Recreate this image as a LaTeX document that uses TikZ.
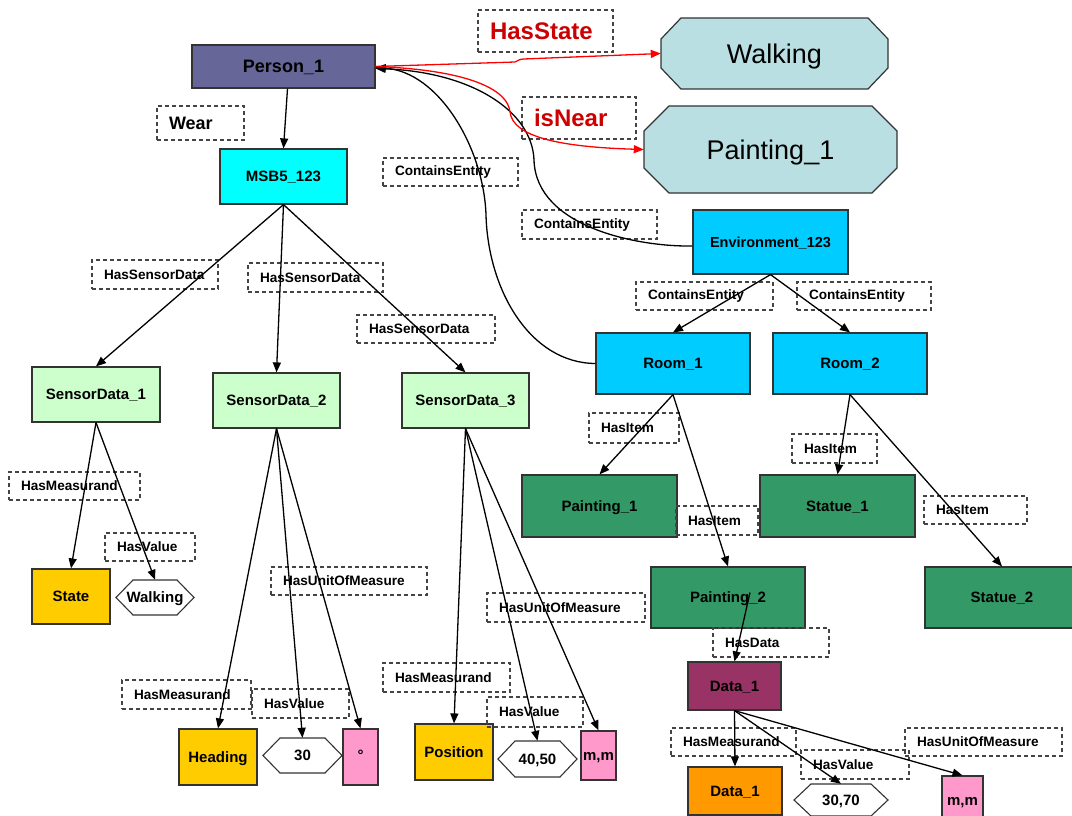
\documentclass[tikz,border=0pt]{standalone}
\usepackage{fontspec}
\setmainfont{Liberation Sans}
\usetikzlibrary{arrows.meta,calc}

\definecolor{cPerson}{HTML}{666699}
\definecolor{cMsb}{HTML}{00FFFF}
\definecolor{cEnv}{HTML}{00CCFF}
\definecolor{cSensor}{HTML}{CCFFCC}
\definecolor{cGold}{HTML}{FFCC00}
\definecolor{cPink}{HTML}{FF99CC}
\definecolor{cItem}{HTML}{339966}
\definecolor{cData}{HTML}{993366}
\definecolor{cOrange}{HTML}{FF9900}
\definecolor{cState}{HTML}{B9DFE2}
\definecolor{cRel}{HTML}{CC0000}
\definecolor{cRedLine}{HTML}{FF0000}
\definecolor{cBorder}{HTML}{333333}
\definecolor{cDash}{HTML}{444444}

% filled rectangle given by its corners: name, style, x1, y1, x2, y2, text
\newcommand\boxnode[7]{%
  \node[box,#2,minimum width={#5-#3},minimum height={#6-#4}] (#1)
    at ({(#3+#5)/2},{(#4+#6)/2}) {#7};}
% dashed relation label, text set flush left
\newcommand\lblnode[7][]{%
  \pgfmathsetmacro\lblw{#5-#3-24}%
  \node[lbl,#1,minimum width={#5-#3},minimum height={#6-#4},text width=\lblw pt] (#2)
    at ({(#3+#5)/2},{(#4+#6)/2}) {\mbox{#7}};}
% octagon: name, x1, y1, x2, y2, corner cut x, corner cut y, text
\newcommand\octnode[8]{%
  \path[octo] ({#2+#6},#3) -- ({#4-#6},#3) -- (#4,{#3+#7}) -- (#4,{#5-#7})
    -- ({#4-#6},#5) -- ({#2+#6},#5) -- (#2,{#5-#7}) -- (#2,{#3+#7}) -- cycle;
  \node[octtext,minimum width={#4-#2},minimum height={#5-#3}] (#1)
    at ({(#2+#4)/2},{(#3+#5)/2}) {#8};}
% value hexagon with pointed ends: name, x1, y1, x2, y2, text
\newcommand\hexnode[6]{%
  \path[hexa] (#2,{(#3+#5)/2}) -- ({#2+17},#3) -- ({#4-17},#3) -- (#4,{(#3+#5)/2})
    -- ({#4-17},#5) -- ({#2+17},#5) -- cycle;
  \node[hextext,minimum width={#4-#2},minimum height={#5-#3}] (#1)
    at ({(#2+#4)/2},{(#3+#5)/2}) {#6};}

\begin{document}
\begin{tikzpicture}[x=1pt,y=-1pt,
  capcentred/.style={text height=#1,text depth=0pt},
  box/.style={draw=cBorder,line width=1.2pt,inner sep=0pt,capcentred=10.8pt,
    font=\bfseries\fontsize{15}{18}\selectfont},
  lbl/.style={draw=cDash,dash pattern=on 4pt off 3pt,line width=1.1pt,
    inner xsep=12pt,inner ysep=0pt,align=left,
    font=\bfseries\fontsize{13.6}{16}\selectfont},
  rel/.style={text=cRel,font=\bfseries\fontsize{24}{28}\selectfont},
  octo/.style={fill=cState,draw=cBorder,line width=1.2pt},
  octtext/.style={inner sep=0pt,capcentred=19.4pt,font=\fontsize{27}{32}\selectfont},
  hexa/.style={fill=white,draw=cBorder,line width=1.1pt},
  hextext/.style={inner sep=0pt,capcentred=10.8pt,font=\bfseries\fontsize{15}{18}\selectfont},
  arr/.style={line width=1.3pt,-{Triangle[length=10pt,width=8pt]}},
  redarr/.style={cRedLine,line width=1.3pt,-{Triangle[length=10pt,width=8pt]}}]

\useasboundingbox (0,0) rectangle (1072,816);
\clip (0,0) rectangle (1072,816);

% ---- person, sensor box and its data ----
\boxnode{person}{fill=cPerson,capcentred=13pt,font=\bfseries\fontsize{18}{21}\selectfont}{192}{45}{375}{88}{Person\_1}
\boxnode{msb}{fill=cMsb}{220}{149}{347}{204}{MSB5\_123}
\boxnode{sd1}{fill=cSensor}{32}{367}{160}{422}{SensorData\_1}
\boxnode{sd2}{fill=cSensor}{213}{373}{340}{428}{SensorData\_2}
\boxnode{sd3}{fill=cSensor}{402}{373}{529}{428}{SensorData\_3}
\boxnode{state}{fill=cGold}{32}{569}{110}{624}{State}
\hexnode{hwalk}{116}{580}{194}{615}{Walking}
\boxnode{heading}{fill=cGold}{179}{729}{257}{785}{Heading}
\hexnode{hthirty}{263}{738}{342}{773}{30}
\boxnode{deg}{fill=cPink,capcentred=6pt}{343}{729}{378}{785}{°}
\boxnode{position}{fill=cGold}{415}{724}{493}{780}{Position}
\hexnode{hpos}{498}{741}{577}{777}{40,50}
\boxnode{mmone}{fill=cPink}{581}{731}{616}{780}{m,m}

% ---- states of the person ----
\octnode{walk}{661}{18}{888}{89}{20}{21}{Walking}
\octnode{pnt}{644}{106}{897}{193}{25}{25}{Painting\_1}

% ---- environment ----
\boxnode{env}{fill=cEnv,capcentred=10.4pt,font=\bfseries\fontsize{14.5}{18}\selectfont}{693}{210}{848}{274}{Environment\_123}
\boxnode{roomone}{fill=cEnv}{596}{333}{750}{394}{Room\_1}
\boxnode{roomtwo}{fill=cEnv}{773}{333}{927}{394}{Room\_2}
\boxnode{pone}{fill=cItem}{522}{475}{677}{537}{Painting\_1}
\boxnode{sone}{fill=cItem}{760}{475}{915}{537}{Statue\_1}
\boxnode{ptwo}{fill=cItem}{651}{567}{805}{628}{Painting\_2}
\boxnode{stwo}{fill=cItem}{925}{567}{1079}{628}{Statue\_2}
\boxnode{data}{fill=cData}{688}{662}{781}{710}{Data\_1}
\boxnode{dval}{fill=cOrange}{688}{767}{782}{815}{Data\_1}
\hexnode{hdat}{794}{784}{888}{816}{30,70}
\boxnode{mmtwo}{fill=cPink}{942}{776}{983}{825}{m,m}

% ---- relation labels ----
\lblnode[font=\bfseries\fontsize{18}{21}\selectfont]{lwear}{157}{106}{244}{140}{Wear}
\lblnode[rel]{lstate}{478}{10}{613}{52}{HasState}
\lblnode[rel]{lnear}{522}{97}{636}{139}{isNear}
\lblnode{lceA}{383}{158}{518}{186}{ContainsEntity}
\lblnode{lceB}{522}{210}{657}{239}{ContainsEntity}
\lblnode{lceC}{636}{282}{773}{310}{ContainsEntity}
\lblnode{lceD}{797}{282}{931}{310}{ContainsEntity}
\lblnode{lsdA}{92}{260}{218}{289}{HasSensorData}
\lblnode{lsdB}{248}{263}{383}{292}{HasSensorData}
\lblnode{lsdC}{357}{315}{495}{343}{HasSensorData}
\lblnode{lmA}{9}{472}{140}{500}{HasMeasurand}
\lblnode{lvA}{105}{533}{195}{561}{HasValue}
\lblnode{luB}{271}{567}{427}{595}{HasUnitOfMeasure}
\lblnode{lmB}{122}{680}{251}{709}{HasMeasurand}
\lblnode{lvB}{252}{689}{349}{718}{HasValue}
\lblnode{luC}{487}{593}{645}{622}{HasUnitOfMeasure}
\lblnode{lmC}{383}{663}{510}{692}{HasMeasurand}
\lblnode{lvC}{487}{697}{583}{727}{HasValue}
\lblnode{liA}{589}{413}{679}{443}{HasItem}
\lblnode{liB}{676}{506}{758}{535}{HasItem}
\lblnode{liC}{792}{434}{877}{463}{HasItem}
\lblnode{liD}{924}{496}{1027}{524}{HasItem}
\lblnode{ldat}{713}{628}{829}{657}{HasData}
\lblnode{lmD}{671}{728}{796}{756}{HasMeasurand}
\lblnode{lvD}{801}{750}{909}{779}{HasValue}
\lblnode{luD}{905}{728}{1062}{756}{HasUnitOfMeasure}

% ---- connectors ----
\draw[arr] ($(person.south)+(4,0)$) -- (msb.north);
\draw[arr] (msb.south) -- (sd1.north);
\draw[arr] (msb.south) -- (sd2.north);
\draw[arr] (msb.south) -- (sd3.north);
\draw[arr] (sd1.south) -- (state.north);
\draw[arr] (sd1.south) -- (hwalk.north);
\draw[arr] (sd2.south) -- (heading.north);
\draw[arr] (sd2.south) -- (hthirty.north);
\draw[arr] (sd2.south) -- (deg.north);
\draw[arr] (sd3.south) -- (position.north);
\draw[arr] (sd3.south) -- (hpos.north);
\draw[arr] (sd3.south) -- (mmone.north);

\draw[arr] (env.south) -- (roomone.north);
\draw[arr] (env.south) -- (roomtwo.north);
\draw[arr] (roomone.south) -- (pone.north);
\draw[arr] (roomone.south) -- (ptwo.north);
\draw[arr] (roomtwo.south) -- (sone.north);
\draw[arr] (roomtwo.south) -- (stwo.north);
\draw[arr] ($(ptwo.center)+(22,-5)$) -- (data.north);
\draw[arr] (data.south) -- (dval.north);
\draw[arr] (data.south) -- (hdat.north);
\draw[arr] (data.south) -- (mmtwo.north);

% containment links back to the person
\draw[arr] (roomone.west) .. controls (530,363) and (488,290) .. (486,215)
  .. controls (484,150) and (440,72) .. ($(person.east)+(0,1)$);
\draw[arr] ($(env.west)+(0,4)$) .. controls (640,247) and (536,228) .. (534,160)
  .. controls (532,110) and (470,72) .. ($(person.east)+(0,2)$);

% state links
\draw[redarr] (person.east) -- (515,62) .. controls (518,61) and (519,59) .. (524,59)
  -- (walk.west);
\draw[redarr] (person.east) .. controls (470,70) and (508,90) .. (510,112)
  .. controls (513,137) and (560,147) .. (pnt.west);
\end{tikzpicture}
\end{document}
